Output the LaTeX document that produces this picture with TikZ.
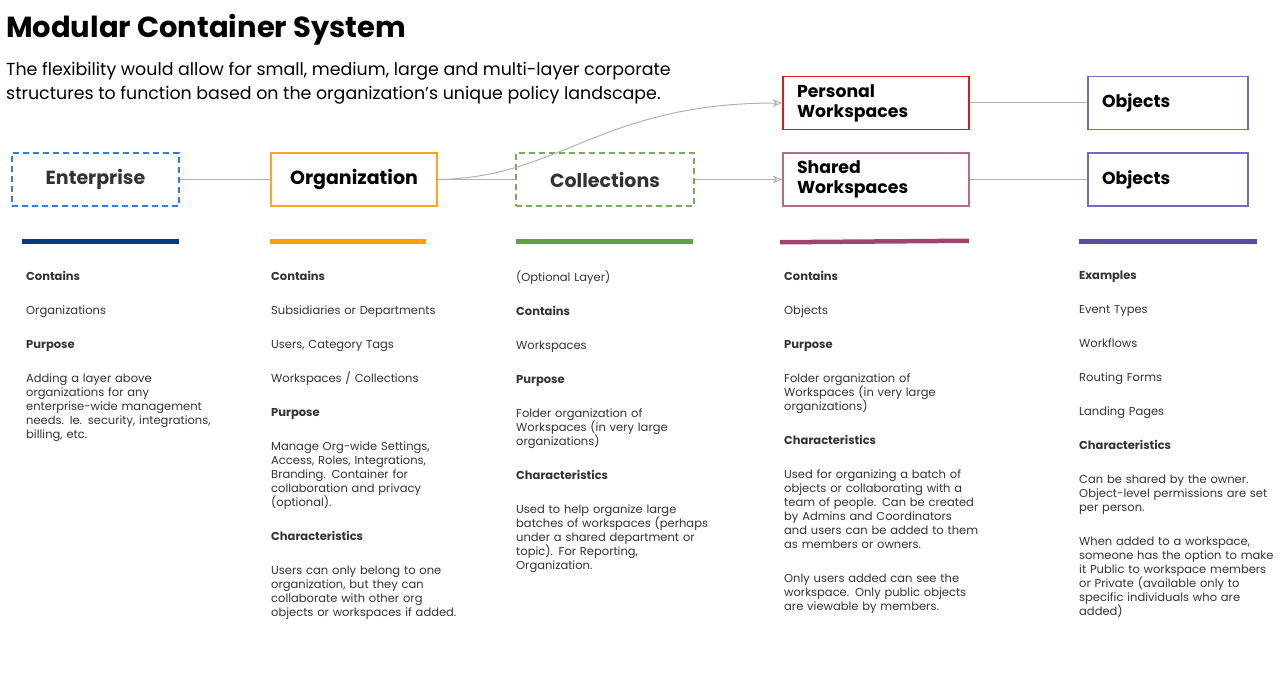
\documentclass[tikz,border=0pt]{standalone}
\usepackage{fontspec}
\setmainfont{Poppins}
\usetikzlibrary{arrows.meta}
\definecolor{cblue}{HTML}{2F7BF0}
\definecolor{corange}{HTML}{FFA51F}
\definecolor{cgreen}{HTML}{74AC5A}
\definecolor{cred}{HTML}{DD1A1A}
\definecolor{cmag}{HTML}{B36A93}
\definecolor{cpurp}{HTML}{7A66BC}
\definecolor{bnavy}{HTML}{003C85}
\definecolor{borange}{HTML}{FF9E0A}
\definecolor{bgreen}{HTML}{62A047}
\definecolor{bmag}{HTML}{A2426F}
\definecolor{bpurp}{HTML}{5E4A9E}
\definecolor{txt}{HTML}{333333}
\begin{document}
\begin{tikzpicture}[x=1pt,y=-1pt,
 box/.style={draw,line width=1.2pt,minimum width=#1,minimum height=53pt,inner sep=0pt,font=\bfseries\fontsize{19}{20}\selectfont},
 lbox/.style={box=#1,align=left,text width=#1-28pt,font=\bfseries\fontsize{17.3}{20}\selectfont},
 dsh/.style={dash pattern=on 6pt off 4pt},
 conn/.style={draw=gray!60,line width=1pt},
 arr/.style={conn,-{Stealth[length=10pt,width=8pt,open]}},
 bar/.style={line width=5pt},
 col/.style={anchor=north west,inner sep=0pt,align=left,text width=215pt,text=txt,font=\fontsize{11.5}{14}\selectfont},
 hd/.style={font=\bfseries}]
\useasboundingbox (0,0) rectangle (1285,674);
\node[anchor=west,inner sep=0pt,font=\bfseries\fontsize{29}{32}\selectfont] (title) at (6,30) {Modular Container System};
\node[anchor=north west,inner sep=0pt,align=left,font=\fontsize{17.4}{24}\selectfont] (sub) at (6,62) {The flexibility would allow for small, medium, large and multi-layer corporate\\structures to function based on the organization’s unique policy landscape.};

\node[box=167pt,draw=cblue,dsh,text=txt] (ent) at (95.5,179.5) {Enterprise};
\node[box=166pt,draw=corange] (org) at (354,179.5) {Organization};
\node[box=178pt,draw=cgreen,dsh,text=txt] (coll) at (605,179.5) {Collections};
\node[lbox=186pt,draw=cred] (pers) at (876,103) {Personal\\Workspaces};
\node[lbox=186pt,draw=cmag] (shar) at (876,179.5) {Shared\\Workspaces};
\node[lbox=160pt,draw=cpurp] (obj1) at (1168,103) {Objects};
\node[lbox=160pt,draw=cpurp] (obj2) at (1168,179.5) {Objects};

\draw[conn] (ent) -- (org);
\draw[conn] (org) -- (coll);
\draw[arr] (coll) -- (shar);
\draw[arr] (org.east) .. controls (560,178) and (600,103) .. (pers.west);
\draw[conn] (pers) -- (obj1);
\draw[conn] (shar) -- (obj2);

\draw[bar,bnavy] (22,241) -- (179,241);
\draw[bar,borange] (270,241) -- (426,241);
\draw[bar,bgreen] (516,241) -- (693,241);
\fill[bmag] (780,240) -- (969,238.5) -- (969,243) -- (780,244.5) -- cycle;
\draw[bar,bpurp] (1079,241) -- (1257,241);

\node[col] (c1) at (26,271) {\setlength{\parskip}{20pt}{\bfseries Contains}\par Organizations\par{\bfseries Purpose}\par Adding a layer above\\organizations for any\\enterprise-wide management\\needs. Ie. security, integrations,\\billing, etc.};
\node[col] (c2) at (271,271) {\setlength{\parskip}{20pt}{\bfseries Contains}\par Subsidiaries or Departments\par Users, Category Tags\par Workspaces / Collections\par{\bfseries Purpose}\par Manage Org-wide Settings,\\Access, Roles, Integrations,\\Branding. Container for\\collaboration and privacy\\(optional).\par{\bfseries Characteristics}\par Users can only belong to one\\organization, but they can\\collaborate with other org\\objects or workspaces if added.};
\node[col] (c3) at (516,271) {\setlength{\parskip}{20pt}(Optional Layer)\par{\bfseries Contains}\par Workspaces\par{\bfseries Purpose}\par Folder organization of\\Workspaces (in very large\\organizations)\par{\bfseries Characteristics}\par Used to help organize large\\batches of workspaces (perhaps\\under a shared department or\\topic). For Reporting,\\Organization.};
\node[col] (c4) at (784,271) {\setlength{\parskip}{20pt}{\bfseries Contains}\par Objects\par{\bfseries Purpose}\par Folder organization of\\Workspaces (in very large\\organizations)\par{\bfseries Characteristics}\par Used for organizing a batch of\\objects or collaborating with a\\team of people. Can be created\\by Admins and Coordinators\\and users can be added to them\\as members or owners.\par Only users added can see the\\workspace. Only public objects\\are viewable by members.};
\node[col] (c5) at (1079,271) {\setlength{\parskip}{20pt}{\bfseries Examples}\par Event Types\par Workflows\par Routing Forms\par Landing Pages\par{\bfseries Characteristics}\par Can be shared by the owner.\\Object-level permissions are set\\per person.\par When added to a workspace,\\someone has the option to make\\it Public to workspace members\\or Private (available only to\\specific individuals who are\\added)};
\end{tikzpicture}
\end{document}
